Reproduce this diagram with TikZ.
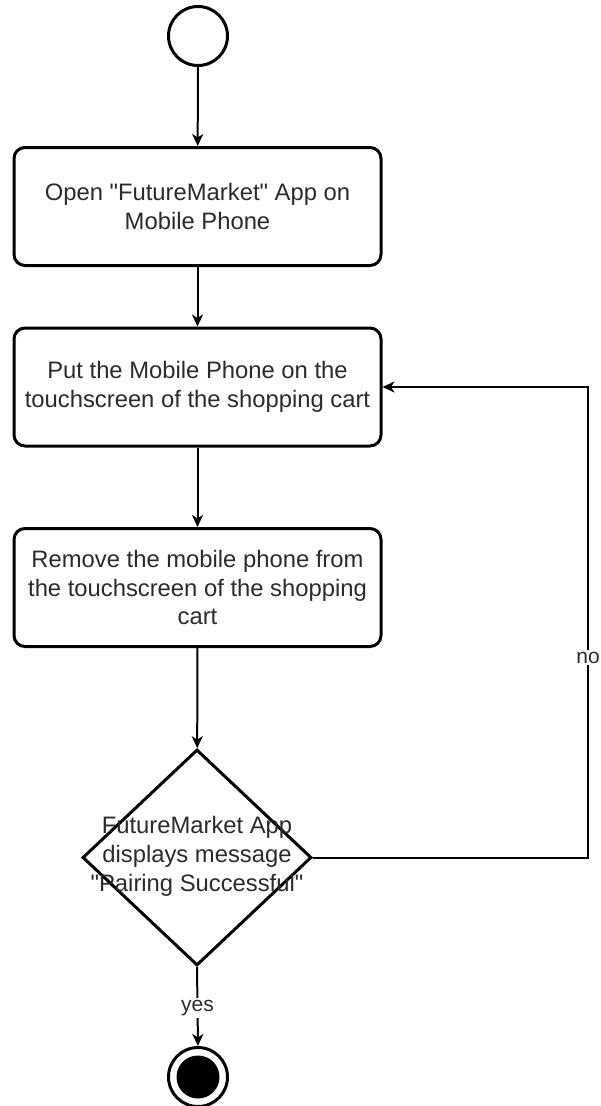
\documentclass[tikz,border=0pt]{standalone}
\usepackage{fontspec}
\setmainfont{Liberation Sans}[Ligatures=TeXOff]
\usetikzlibrary{shapes.geometric,arrows.meta}
\definecolor{txt}{HTML}{2B2B2B}
\begin{document}
\begin{tikzpicture}[x=1pt,y=-1pt,
  every node/.style={font=\fontsize{23.8}{28.5}\selectfont, text=txt},
  action/.style={draw=black, line width=3pt, rounded corners=11pt,
    minimum width=367pt, minimum height=118pt, align=center, inner sep=0pt},
  startnode/.style={draw=black, circle, line width=3pt, minimum size=59pt, inner sep=0pt},
  endnode/.style={draw=black, circle, line width=3pt, minimum size=59pt, inner sep=0pt,
    path picture={\fill[black] (path picture bounding box.center) circle (21.5pt);}},
  decision/.style={draw=black, diamond, line width=3pt, minimum width=229pt,
    minimum height=216pt, inner sep=0pt},
  flow/.style={draw=black, line width=2pt,
    -{Stealth[length=12pt, width=11pt, inset=3.5pt]}},
  lbl/.style={fill=white, inner sep=2pt, font=\fontsize{21}{24}\selectfont}
]
\useasboundingbox (0,0) rectangle (600,1106);
\fill[white] (0,0) rectangle (600,1106);

% activity nodes
\node[startnode] (start) at (198,36) {};
\node[action] (open) at (197.5,206.5) {Open "FutureMarket" App on\\Mobile Phone};
\node[action] (put) at (197.5,387) {Put the Mobile Phone on the\\touchscreen of the shopping cart};
\node[action] (remove) at (197.5,587.5) {Remove the mobile phone from\\the touchscreen of the shopping\\cart};
\node[decision] (dec) at (197,857.5) {};
\node[align=center, font=\fontsize{23.8}{29}\selectfont] (dectext) at (197,856.5)
  {FutureMarket App\\displays message\\"Pairing Successful"};
\node[endnode] (stop) at (198,1077) {};

% loop-back route
\coordinate (nb) at (588,857.5);
\coordinate (nt) at (588,387);

% control flow
\draw[flow] (start) -- (open);
\draw[flow] (open) -- (put);
\draw[flow] (put) -- (remove);
\draw[flow] (remove) -- (dec);
\draw[flow] (dec.east) -- (nb) -- node[lbl, pos=0.425] {no} (nt) -- (put.east);
\draw[flow] (dec.south) -- node[lbl, pos=0.52] {yes} (stop.north);
\end{tikzpicture}
\end{document}
